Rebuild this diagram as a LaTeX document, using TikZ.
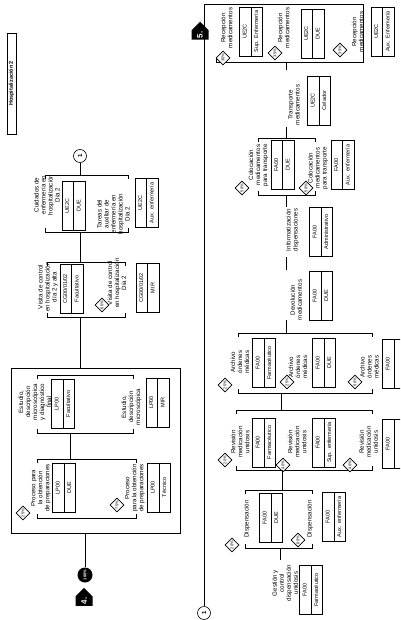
\documentclass[tikz,border=0pt]{standalone}
\usepackage{fontspec}
\setmainfont{Liberation Sans}
\usetikzlibrary{shapes.geometric, shapes.multipart, shapes.symbols}
\newcommand{\lblfont}{\fontsize{6.2}{7}\selectfont}
\newcommand{\boxfont}{\fontsize{5.5}{7}\selectfont}
\newcommand{\pctfont}{\fontsize{4}{4}\selectfont}
\tikzset{
  lbl/.style={rotate=90, align=center, inner sep=0pt, font=\lblfont},
  rolebox/.style={draw, fill=white, rectangle split, rectangle split parts=2,
    rotate=90, text width=45pt, align=center, inner xsep=2pt, inner ysep=2pt,
    font=\boxfont},
  pct/.style={draw, fill=white, diamond, aspect=1, rotate=90, minimum size=14pt,
    inner sep=0pt, font=\pctfont},
  dot/.style={circle, fill=black, text=white, rotate=90, minimum size=15pt,
    inner sep=0pt, font=\fontsize{4}{4}\selectfont\bfseries},
  conn/.style={draw, fill=white, circle, rotate=90, minimum size=13pt, inner sep=0pt,
    font=\fontsize{6}{6}\selectfont\bfseries},
  sect/.style={signal, signal to=east, fill=black, text=white, rotate=90,
    minimum width=18pt, minimum height=17pt, inner sep=1pt,
    font=\fontsize{8}{8}\selectfont\bfseries},
  titlebox/.style={draw, rotate=90, minimum width=101pt, minimum height=9pt,
    inner sep=0pt, font=\fontsize{5.5}{6}\selectfont\bfseries}
}
\begin{document}
\begin{tikzpicture}[x=1pt, y=-1pt, line width=0.6pt]
  \path[use as bounding box] (0,0) rectangle (400,620);
  \clip (0,0) rectangle (400,620);

  % Title
  \node[titlebox] (tit) at (11.5,83.5) {Hospitalización 2};

  % Cuidados de enfermería
  \node[conn] (con1) at (80,156) {1};
  \coordinate (cuiT) at (80,175);
  \coordinate (cuiB) at (80,232);
  \draw (con1) -- (cuiT);
  \draw (45,179) |- (128,175) -- (128,179);
  \draw (45,228) |- (128,232) -- (128,228);
  \node[lbl] (cui1) at (47,195) {Cuidados de\\enfermería en\\hospitalización\\Día 2};
  \node[rolebox] (cuiR1) at (73.5,206) {UE2C\strut\nodepart{two}DUE\strut};
  \node[lbl] (cui2) at (113.5,214) {Tareas del\\auxiliar de\\enfermería en\\hospitalización\\Día 2};
  \node[rolebox] (cuiR2) at (146.5,203) {UE2C\strut\nodepart{two}Aux. enfermería\strut};

  % Visita de control
  \coordinate (visT) at (80,262);
  \coordinate (visB) at (80,317);
  \draw (cuiB) -- (visT);
  \draw (47,266) |- (125,262) -- (125,266);
  \draw (47,313) |- (125,317) -- (125,313);
  \node[lbl] (vis1) at (48,287) {Visita de control\\en hospitalización\\día 2 y alta};
  \node[rolebox] (visR1) at (71.5,289) {CG00/01/02\strut\nodepart{two}Facultativo\strut};
  \node[pct] (visP2) at (102,305) {60\%};
  \node[lbl] (vis2) at (117,283) {Visita de control\\en hospitalización\\Día 2};
  \node[rolebox] (visR2) at (147.5,288) {CG00/01/02\strut\nodepart{two}MIR\strut};

  % Laboratorio
  \coordinate (labT) at (80,368);
  \coordinate (labB) at (85,533);
  \draw (visB) -- (labT);
  \draw (11,368) rectangle (180,533);

  % Estudio
  \coordinate (estB) at (70,433);
  \draw (37,379) |- (133,375) -- (133,379);
  \draw (37,429) |- (133,433) -- (133,429);
  \node[lbl] (est1) at (35,402) {Estudio,\\descripción\\microscópica\\y diagnóstico\\final};
  \node[rolebox] (estR1) at (63,404) {LP00\strut\nodepart{two}Facultativo\strut};
  \node[lbl] (est2) at (131.5,407) {Estudio,\\descripción\\microscópica};
  \node[rolebox] (estR2) at (157.5,402.5) {LP00\strut\nodepart{two}MIR\strut};

  % Proceso
  \coordinate (proT) at (70,459);
  \draw (estB) -- (proT);
  \draw (37,463) |- (136,459) -- (136,463);
  \draw (37,514) |- (136,518) -- (136,514);
  \node[pct] (proP1) at (23,513) {25\%};
  \node[lbl] (pro1) at (41,488) {Proceso para\\la obtención\\de preparaciones};
  \node[rolebox] (proR1) at (64,488) {LP00\strut\nodepart{two}DUE\strut};
  \node[pct] (proP2) at (117,505) {75\%};
  \node[lbl] (pro2) at (135,488) {Proceso\\para la obtención\\de preparaciones};
  \node[rolebox] (proR2) at (159,487.5) {LP00\strut\nodepart{two}Técnico\strut};

  % Inicio del proceso 4
  \node[dot] (p100) at (85,575) {100\%};
  \draw (labB) -- (p100);
  \node[sect] (sec4) at (84,601) {4.};

  % Recepción medicamentos
  \node[conn] (con2) at (204,613) {1};
  \coordinate (recL) at (204,4);
  \coordinate (recR) at (363,62);
  \coordinate (recB) at (286,62);
  \draw (con2) -- (recL) -| (recR) -- (216,62) -- (216,58);
  \node[sect] (sec5) at (200,35) {5.};
  \node[pct] (recP1) at (223,58) {30\%};
  \node[lbl] (rec1) at (226.5,28) {Recepción\\medicamentos};
  \node[rolebox] (recR1) at (251,31.5) {UE2C\strut\nodepart{two}Sup. Enfermería\strut};
  \node[pct] (recP2) at (275,53) {35\%};
  \node[lbl] (rec2) at (283.5,28) {Recepción\\medicamentos};
  \node[rolebox] (recR2) at (312.5,33.5) {UE2C\strut\nodepart{two}DUE\strut};
  \node[pct] (recP3) at (340,50) {35\%};
  \node[lbl] (rec3) at (357.5,32) {Recepción\\medicamentos};
  \node[rolebox] (recR3) at (382.5,31.5) {UE2C\strut\nodepart{two}Aux. Enfermería\strut};

  % Transporte
  \coordinate (traT) at (286,70);
  \coordinate (traB) at (286,127);
  \draw (recB) -- (traT);
  \node[lbl] (tra1) at (294,105) {Transporte\\medicamentos};
  \node[rolebox] (traR1) at (319,100.5) {UE2C\strut\nodepart{two}Celador\strut};

  % Colocación
  \coordinate (colT) at (286,138);
  \coordinate (colB) at (286,195);
  \draw (traB) -- (colT);
  \draw (258,142) |- (315,138) -- (315,142);
  \draw (258,191) |- (315,195) -- (315,191);
  \node[lbl] (col1) at (258.5,165) {Colocación\\medicamentos\\para transporte};
  \node[pct] (colP1) at (242,188) {50\%};
  \node[rolebox] (colR1) at (282.5,165) {FA00\strut\nodepart{two}DUE\strut};
  \node[pct] (colP2) at (306,188) {50\%};
  \node[lbl] (col2) at (318,168) {Colocación\\medicamentos\\para transporte};
  \node[rolebox] (colR2) at (342.5,165) {FA00\strut\nodepart{two}Aux. enfermería\strut};

  % Informatización
  \coordinate (infT) at (286,207);
  \coordinate (infB) at (286,257);
  \draw (colB) -- (infT);
  \node[lbl] (inf1) at (292.5,230) {Informatización\\dispensaciones};
  \node[rolebox] (infR1) at (321,232) {FA00\strut\nodepart{two}Administrativo\strut};

  % Devolución
  \coordinate (devT) at (286,270);
  \coordinate (devB) at (286,320);
  \draw (infB) -- (devT);
  \node[lbl] (dev1) at (296,300) {Devolución\\medicamentos};
  \node[rolebox] (devR1) at (321,296) {FA00\strut\nodepart{two}DUE\strut};

  % Archivo órdenes
  \coordinate (arcT) at (286,333);
  \coordinate (arcB) at (281,393);
  \draw (devB) -- (arcT);
  \draw (238,337) |- (372,333) -- (372,337);
  \draw (238,389) |- (372,393) -- (372,389);
  \node[lbl] (arc1) at (240,362) {Archivo\\órdenes\\médicas};
  \node[pct] (arcP1) at (225,385) {25\%};
  \node[rolebox] (arcR1) at (264,363) {FA00\strut\nodepart{two}Farmacéutico\strut};
  \node[pct] (arcP2) at (287,382) {25\%};
  \node[lbl] (arc2) at (298,367) {Archivo\\órdenes\\médicas};
  \node[rolebox] (arcR2) at (324,363) {FA00\strut\nodepart{two}DUE\strut};
  \node[pct] (arcP3) at (355,382) {50\%};
  \node[lbl] (arc3) at (369.5,367) {Archivo\\órdenes\\médicas};
  \node[rolebox] (arcR3) at (394,364) {FA00\strut\nodepart{two}\strut};

  % Revisión medicación
  \coordinate (revT) at (281,410);
  \coordinate (revB) at (282,470);
  \draw (arcB) -- (revT);
  \draw (236,414) |- (372,410) -- (372,414);
  \draw (236,466) |- (372,470) -- (372,466);
  \node[lbl] (rev1) at (240,442) {Revisión\\medicación\\unidosis};
  \node[pct] (revP1) at (225,460) {20\%};
  \node[rolebox] (revR1) at (264,442.5) {FA00\strut\nodepart{two}Farmacéutico\strut};
  \node[pct] (revP2) at (283,465) {40\%};
  \node[lbl] (rev2) at (297,442) {Revisión\\medicación\\unidosis};
  \node[rolebox] (revR2) at (324,442.5) {FA00\strut\nodepart{two}Sup. enfermería\strut};
  \node[pct] (revP3) at (350,465) {40\%};
  \node[lbl] (rev3) at (368.5,442) {Revisión\\medicación\\unidosis};
  \node[rolebox] (revR3) at (394,444) {FA00\strut\nodepart{two}\strut};

  % Dispensación
  \coordinate (disT) at (282,490);
  \coordinate (disB) at (280,548);
  \draw (revB) -- (disT);
  \draw (245,494) |- (312,490) -- (312,494);
  \draw (245,544) |- (312,548) -- (312,544);
  \node[lbl] (dis1) at (247,519) {Dispensación};
  \node[pct] (disP1) at (232,545) {20\%};
  \node[rolebox] (disR1) at (271,518) {FA00\strut\nodepart{two}DUE\strut};
  \node[pct] (disP2) at (298,540) {80\%};
  \node[lbl] (dis2) at (310,519) {Dispensación};
  \node[rolebox] (disR2) at (334,517) {FA00\strut\nodepart{two}Aux. enfermería\strut};

  % Gestión y control
  \coordinate (gesT) at (280,560);
  \draw (disB) -- (gesT);
  \node[lbl] (ges1) at (285,583) {Gestión y\\control\\dispensación\\unidosis};
  \node[rolebox] (gesR1) at (311,590) {FA00\strut\nodepart{two}Farmacéutico\strut};
\end{tikzpicture}
\end{document}
